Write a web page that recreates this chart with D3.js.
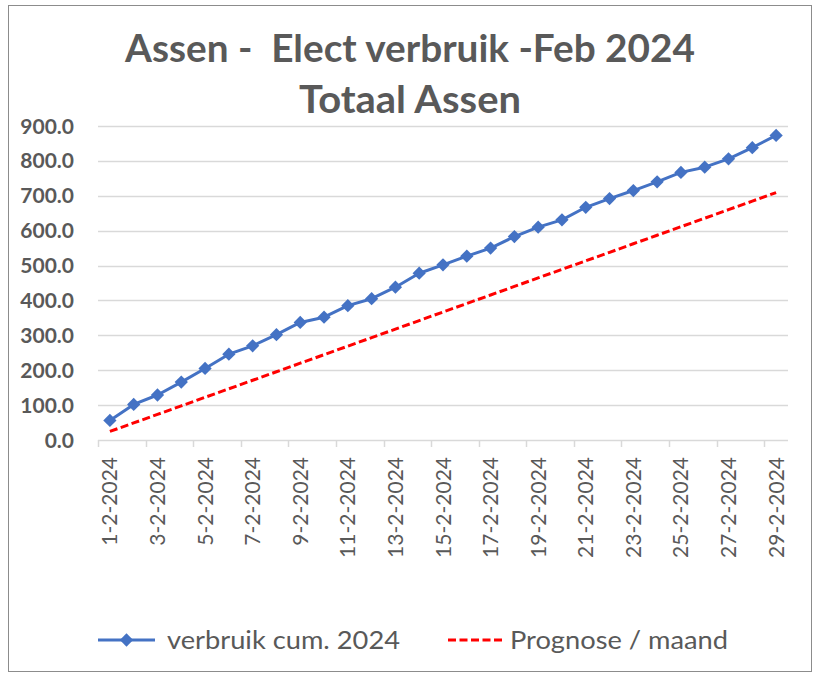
<!DOCTYPE html>
<head>
<meta charset="utf-8">
<title>Assen Elect verbruik Feb 2024</title>
<script src="https://d3js.org/d3.v7.min.js"></script>
<style>
  body { margin: 0; background: #fff; }
  svg { display: block; }
</style>
</head>
<body>
<div id="chart"></div>
<script>

  // data
  var days = ["1-2-2024","2-2-2024","3-2-2024","4-2-2024","5-2-2024","6-2-2024","7-2-2024",
    "8-2-2024","9-2-2024","10-2-2024","11-2-2024","12-2-2024","13-2-2024","14-2-2024",
    "15-2-2024","16-2-2024","17-2-2024","18-2-2024","19-2-2024","20-2-2024","21-2-2024",
    "22-2-2024","23-2-2024","24-2-2024","25-2-2024","26-2-2024","27-2-2024","28-2-2024","29-2-2024"];
  var verbruik = [56, 102, 129, 166, 205, 246, 270, 302, 337, 352, 385, 405, 438, 478, 502,
    527, 550, 583, 610, 631, 667, 692, 715, 740, 767, 782, 806, 838, 873];
  var prognose = [24.5, 48.9, 73.4, 97.8, 122.3, 146.7, 171.2, 195.6, 220.1, 244.5, 269.0,
    293.4, 317.9, 342.3, 366.8, 391.2, 415.7, 440.1, 464.6, 489.0, 513.5, 537.9, 562.4,
    586.8, 611.3, 635.7, 660.2, 684.6, 709.1];
  var yTicks = [0, 100, 200, 300, 400, 500, 600, 700, 800, 900];
  var titleLines = ["Assen -  Elect verbruik -Feb 2024", "Totaal Assen"];
  var legendNames = ["verbruik cum. 2024", "Prognose / maand"];

  var W = 819, H = 674;
  var plotL = 98, plotR = 788, plotT = 126, plotB = 440;
  var grey = "#595959";

  var svg = d3.select("#chart")
    .append("svg")
      .attr("width", W)
      .attr("height", H);

  // outer frame
  svg.append("rect")
    .attr("x", 8.5).attr("y", 5.5)
    .attr("width", 803).attr("height", 666)
    .attr("fill", "#fff")
    .attr("stroke", "#8c8c8c")
    .attr("stroke-width", 1);

  // title
  svg.append("g").selectAll("text")
    .data(titleLines)
    .enter().append("text")
      .attr("x", 410)
      .attr("y", function(d, i) { return 62 + i * 51; })
      .attr("text-anchor", "middle")
      .attr("textLength", function(d, i) { return i == 0 ? 570 : 222; })
      .attr("lengthAdjust", "spacingAndGlyphs")
      .style("white-space", "pre")
      .style("font-family", "Lato, 'Open Sans', sans-serif")
      .style("font-weight", "bold")
      .style("font-size", "38px")
      .style("fill", grey)
      .text(function(d) { return d; });

  var x = d3.scaleBand()
    .domain(days)
    .range([plotL, plotR]);

  var y = d3.scaleLinear()
    .domain([0, 900])
    .range([plotB, plotT]);

  // gridlines
  svg.append("g").selectAll("line")
    .data(yTicks.filter(function(d) { return d > 0; }))
    .enter().append("line")
      .attr("x1", plotL).attr("x2", plotR)
      .attr("y1", function(d) { return Math.round(y(d)) + 0.5; })
      .attr("y2", function(d) { return Math.round(y(d)) + 0.5; })
      .style("stroke", "#d9d9d9")
      .style("stroke-width", 1.5);

  // y axis labels
  svg.append("g").selectAll("text")
    .data(yTicks)
    .enter().append("text")
      .attr("x", 74)
      .attr("y", function(d) { return y(d); })
      .attr("dy", "0.36em")
      .attr("text-anchor", "end")
      .style("font-family", "Lato, sans-serif")
      .style("font-weight", "bold")
      .style("font-size", "21px")
      .style("fill", grey)
      .text(function(d) { return d3.format(".1f")(d); });

  // x axis
  var xAxis = d3.axisBottom(x)
    .tickValues(days.filter(function(d, i) { return i % 2 == 0; }))
    .tickSize(0);
  var gx = svg.append("g")
    .attr("transform", "translate(0," + plotB + ")")
    .call(xAxis);
  gx.select(".domain")
    .attr("d", "M" + plotL + ",0.5H" + plotR)
    .style("stroke", "#d9d9d9")
    .style("stroke-width", 1.5);
  gx.selectAll(".tick text")
    .attr("transform", "rotate(-90)")
    .attr("x", -17)
    .attr("y", 0)
    .attr("dy", "0.36em")
    .attr("text-anchor", "end")
    .style("font-family", "Lato, sans-serif")
    .style("font-size", "21px")
    .style("fill", grey);

  // tick marks on category boundaries, every 2nd
  svg.append("g").selectAll("line")
    .data(days.filter(function(d, i) { return i % 2 == 0; }))
    .enter().append("line")
      .attr("x1", function(d) { return Math.round(x(d)) + 0.5; })
      .attr("x2", function(d) { return Math.round(x(d)) + 0.5; })
      .attr("y1", plotB)
      .attr("y2", plotB + 7)
      .style("stroke", "#d9d9d9")
      .style("stroke-width", 1.5);

  var cx = function(d, i) { return x(days[i]) + x.bandwidth() / 2; };

  // prognose dashed line
  svg.append("path")
    .datum(prognose)
    .attr("fill", "none")
    .attr("stroke", "#ff0000")
    .attr("stroke-width", 3)
    .attr("stroke-dasharray", "8,3.5")
    .attr("d", d3.line().x(cx).y(function(d) { return y(d); }));

  // verbruik line
  svg.append("path")
    .datum(verbruik)
    .attr("fill", "none")
    .attr("stroke", "#4472c4")
    .attr("stroke-width", 3)
    .attr("stroke-linejoin", "round")
    .attr("d", d3.line().x(cx).y(function(d) { return y(d); }));

  var diamond = d3.symbol().type(d3.symbolSquare).size(88);

  svg.append("g").selectAll("path")
    .data(verbruik)
    .enter().append("path")
      .attr("d", diamond)
      .attr("transform", function(d, i) {
        return "translate(" + cx(d, i) + "," + y(d) + ") rotate(45)";
      })
      .style("fill", "#4472c4");

  // legend
  var lg = svg.append("g");
  lg.append("line")
    .attr("x1", 98).attr("x2", 155)
    .attr("y1", 640).attr("y2", 640)
    .style("stroke", "#4472c4")
    .style("stroke-width", 3);
  lg.append("path")
    .attr("d", diamond)
    .attr("transform", "translate(126.5,640) rotate(45)")
    .style("fill", "#4472c4");
  lg.append("line")
    .attr("x1", 448).attr("x2", 505)
    .attr("y1", 640).attr("y2", 640)
    .style("stroke", "#ff0000")
    .style("stroke-width", 3)
    .style("stroke-dasharray", "8,3.5");
  lg.selectAll("text")
    .data(legendNames)
    .enter().append("text")
      .attr("x", function(d, i) { return i == 0 ? 167 : 510; })
      .attr("y", 649)
      .attr("textLength", function(d, i) { return i == 0 ? 233 : 218; })
      .attr("lengthAdjust", "spacingAndGlyphs")
      .style("font-family", "Lato, sans-serif")
      .style("font-size", "25px")
      .style("fill", grey)
      .text(function(d) { return d; });

</script>
</body>
